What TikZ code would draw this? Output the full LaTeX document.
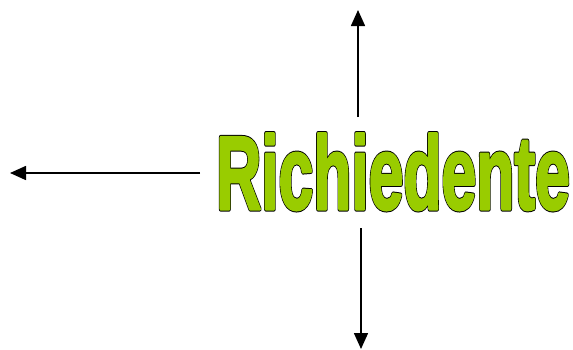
\documentclass[tikz,border=0pt]{standalone}
\usepackage{fontspec}
\setmainfont{Liberation Sans}
\usetikzlibrary{arrows.meta}
\definecolor{wordgreen}{RGB}{153,204,0}
% one letter: a wide black rim first, the green letter over it
\newcommand\rimletter[1]{%
  \rlap{\color{black}\special{pdf:literal direct 2 Tr 5 w 1 j}#1\special{pdf:literal direct 0 Tr}}%
  {\color{wordgreen}\special{pdf:literal direct 2 Tr 3 w 1 j}#1\special{pdf:literal direct 0 Tr}}}
\def\rimletters#1{\ifx#1\relax\else\rimletter{#1}\expandafter\rimletters\fi}
\newcommand\rimword[1]{\rimletters#1\relax}
\begin{document}
\begin{tikzpicture}[x=1pt, y=-1pt,
    pointer/.style={line width=1.6, -{Triangle[length=16,width=14]}}]
    \useasboundingbox (0,0) rectangle (573,349);

    % The word, squeezed sideways, each letter outlined in black
    \node[inner sep=0, anchor=base west] (word) at (216,209)
        {\scalebox{0.6}[1]{\fontsize{104}{104}\selectfont\bfseries\rimword{Richiedente}}};

    % Free ends of the three pointers
    \coordinate (top) at (358,10);
    \coordinate (left) at (10,173);
    \coordinate (bottom) at (361,349);

    \coordinate (topstart) at (358,117);
    \coordinate (leftstart) at (200,173);
    \coordinate (bottomstart) at (361,228);

    \foreach \from/\to in {topstart/top, leftstart/left, bottomstart/bottom} {
        \draw[pointer] (\from) -- (\to);
    }
\end{tikzpicture}
\end{document}
